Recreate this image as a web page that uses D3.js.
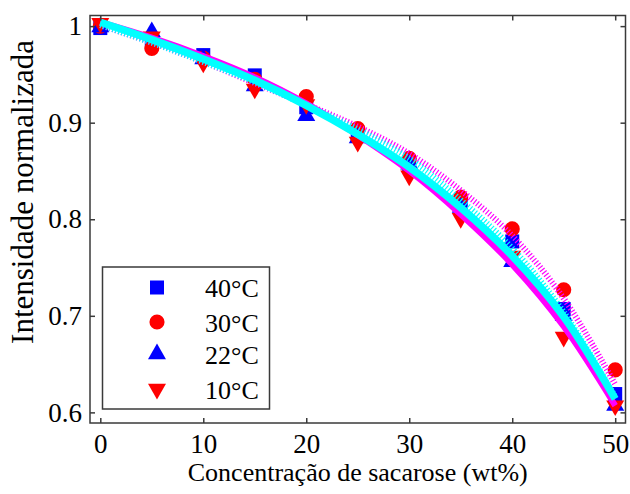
<!DOCTYPE html>
<html>
<head>
<meta charset="utf-8">
<script src="https://cdn.jsdelivr.net/npm/d3@7"></script>
<style>
  html, body { margin: 0; padding: 0; background: #fff; }
  svg { display: block; }
  text { font-family: "Liberation Serif", "DejaVu Serif", "Times New Roman", serif; fill: #000; }
</style>
</head>
<body>
<svg id="chart" width="630" height="494"></svg>
<script>
// Sucrose concentration (wt%) at which intensity was measured
const concentration = [0, 5, 10, 15, 20, 25, 30, 35, 40, 45, 50];

// Normalized intensity per temperature
const t40 = [0.998, 0.985, 0.970, 0.949, 0.916, 0.889, 0.856, 0.816, 0.777, 0.707, 0.619];
const t30 = [1.000, 0.977, 0.967, 0.945, 0.927, 0.894, 0.863, 0.823, 0.790, 0.727, 0.644];
const t22 = [0.999, 0.994, 0.966, 0.938, 0.907, 0.884, 0.857, 0.812, 0.756, 0.700, 0.607];
const t10 = [1.003, 0.989, 0.962, 0.935, 0.919, 0.880, 0.845, 0.801, 0.762, 0.678, 0.607];

// Fitted curves sampled along the concentration axis
const fitSolidMagenta = [1.004, 0.988, 0.969, 0.947, 0.920, 0.887, 0.850, 0.805, 0.753, 0.689, 0.607];
const fitSolidCyan    = [1.004, 0.986, 0.966, 0.944, 0.918, 0.888, 0.854, 0.812, 0.762, 0.699, 0.614];
const fitDotMagenta   = [1.001, 0.983, 0.963, 0.941, 0.919, 0.896, 0.868, 0.830, 0.783, 0.718, 0.629];
const fitDotCyan      = [1.001, 0.983, 0.963, 0.942, 0.918, 0.893, 0.863, 0.820, 0.770, 0.704, 0.616];

const xTicks = [0, 10, 20, 30, 40, 50];
const yTicks = [0.6, 0.7, 0.8, 0.9, 1];

const legendLabels = ["40°C", "30°C", "22°C", "10°C"];

const FONT = "'Liberation Serif', 'DejaVu Serif', 'Times New Roman', serif";

const svg = d3.select("#chart");
const plotLeft = 90, plotRight = 625.5, plotTop = 15.5, plotBottom = 423;

const x = d3.scaleLinear().domain([-1, 51]).range([plotLeft, plotRight]);
const y = d3.scaleLinear().domain([0.589, 1.011]).range([plotBottom, plotTop]);

const series = [
  { name: legendLabels[0], values: t40, color: "#0000ff", shape: "square" },
  { name: legendLabels[1], values: t30, color: "#ff0000", shape: "circle" },
  { name: legendLabels[2], values: t22, color: "#0000ff", shape: "up" },
  { name: legendLabels[3], values: t10, color: "#ff0000", shape: "down" }
];

const fits = [
  { values: fitDotMagenta, color: "#ff00ff", width: 6, dash: "1.2 2" },
  { values: fitDotCyan, color: "#00ffff", width: 6, dash: "1.2 2" },
  { values: fitSolidMagenta, color: "#ff00ff", width: 6, dash: null },
  { values: fitSolidCyan, color: "#00ffff", width: 7.5, dash: null }
];

function symbolPath(shape) {
  if (shape === "square") return d3.symbol(d3.symbolSquare, 196)();
  if (shape === "circle") return d3.symbol(d3.symbolCircle, 180)();
  return d3.symbol(d3.symbolTriangle, 140)();
}
function symbolTransform(shape, px, py) {
  return shape === "down" ? `translate(${px},${py}) rotate(180)` : `translate(${px},${py})`;
}

const plot = svg.append("g");

// Markers
series.forEach(s => {
  plot.append("g").selectAll("path")
    .data(s.values)
    .join("path")
    .attr("d", symbolPath(s.shape))
    .attr("transform", (d, i) => symbolTransform(s.shape, x(concentration[i]), y(d)))
    .attr("fill", s.color);
});

// Fitted curves drawn over the markers
const line = d3.line()
  .x((d, i) => x(concentration[i]))
  .y(d => y(d))
  .curve(d3.curveCatmullRom);

fits.forEach(f => {
  plot.append("path")
    .attr("d", line(f.values))
    .attr("fill", "none")
    .attr("stroke", f.color)
    .attr("stroke-width", f.width)
    .attr("stroke-dasharray", f.dash)
    .attr("stroke-linecap", "butt")
    .attr("stroke-linejoin", "round");
});

// Axes: inward ticks on all four sides
const axisColor = "#3a3a3a";
const gx = svg.append("g").attr("transform", `translate(0,${plotBottom})`)
  .call(d3.axisBottom(x).tickValues(xTicks).tickFormat(d3.format("d"))
    .tickSize(-5).tickSizeOuter(0).tickPadding(11));
const gxTop = svg.append("g").attr("transform", `translate(0,${plotTop})`)
  .call(d3.axisTop(x).tickValues(xTicks).tickFormat("")
    .tickSize(-5).tickSizeOuter(0));
const gy = svg.append("g").attr("transform", `translate(${plotLeft},0)`)
  .call(d3.axisLeft(y).tickValues(yTicks).tickFormat(d => d === 1 ? "1" : d3.format(".1f")(d))
    .tickSize(-5).tickSizeOuter(0).tickPadding(8));
const gyRight = svg.append("g").attr("transform", `translate(${plotRight},0)`)
  .call(d3.axisRight(y).tickValues(yTicks).tickFormat("")
    .tickSize(-5).tickSizeOuter(0));

[gx, gxTop, gy, gyRight].forEach(g => {
  g.attr("font-family", FONT);
  g.select(".domain").remove();
  g.selectAll(".tick line").attr("stroke", axisColor).attr("stroke-width", 1.5);
  g.selectAll(".tick text").attr("font-family", FONT)
    .attr("font-size", 27).attr("fill", "#000");
});

svg.append("rect").attr("x", plotLeft).attr("y", plotTop)
  .attr("width", plotRight - plotLeft).attr("height", plotBottom - plotTop)
  .attr("fill", "none").attr("stroke", axisColor).attr("stroke-width", 1.5);

// Axis titles
svg.append("text")
  .attr("x", (plotLeft + plotRight) / 2).attr("y", 481)
  .attr("text-anchor", "middle").attr("font-size", 26)
  .attr("font-family", FONT)
  .text("Concentração de sacarose (wt%)");

svg.append("text")
  .attr("transform", "translate(33,192) rotate(-90)")
  .attr("text-anchor", "middle").attr("font-size", 31)
  .attr("font-family", FONT)
  .text("Intensidade normalizada");

// Legend
const legend = svg.append("g");
legend.append("rect").attr("x", 102.5).attr("y", 267)
  .attr("width", 167).attr("height", 142)
  .attr("fill", "#fff").attr("stroke", axisColor).attr("stroke-width", 1.5);

const rowY = [287.5, 322, 354, 389];
series.forEach((s, i) => {
  legend.append("path")
    .attr("d", symbolPath(s.shape))
    .attr("transform", symbolTransform(s.shape, 157, rowY[i]))
    .attr("fill", s.color);
  legend.append("text")
    .attr("x", 205).attr("y", rowY[i] + 9.5)
    .attr("font-size", 26)
    .attr("font-family", FONT)
    .text(s.name);
});
</script>
</body>
</html>
